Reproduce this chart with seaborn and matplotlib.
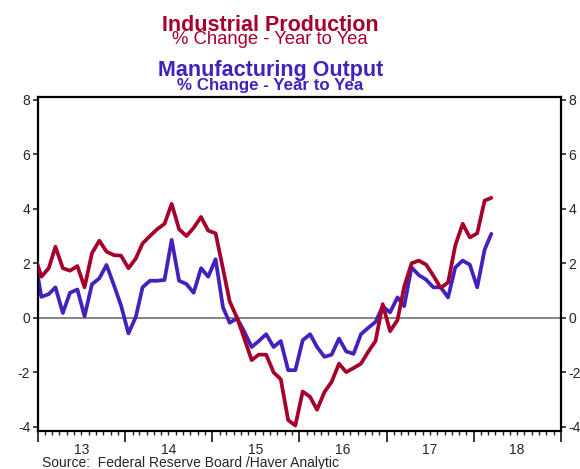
import numpy as np
import pandas as pd
import seaborn as sns
import matplotlib.pyplot as plt
import matplotlib.dates as mdates

# monthly y/y % change, Dec 2012 - Mar 2018 (Dec 2012 sits just outside the frame)
months = pd.date_range('2012-12-01', '2018-03-01', freq='MS')

ind_prod = [2.37, 1.51, 1.82, 2.61, 1.82, 1.73, 1.90, 1.12, 2.37, 2.83, 2.43, 2.30, 2.28,
            1.82, 2.18, 2.73, 3.00, 3.25, 3.45, 4.18, 3.25, 3.00, 3.30, 3.70, 3.20,
            3.10, 1.80, 0.60, 0.00, -0.75, -1.55, -1.35, -1.35, -2.00, -2.25, -3.75, -3.95,
            -2.70, -2.90, -3.37, -2.72, -2.35, -1.68, -1.99, -1.84, -1.68, -1.25, -0.85, 0.50,
            -0.49, -0.08, 1.14, 2.00, 2.10, 1.95, 1.55, 1.10, 1.30, 2.65, 3.45, 2.95,
            3.10, 4.30, 4.40]

mfg_output = [2.37, 0.77, 0.87, 1.12, 0.18, 0.92, 1.04, 0.06, 1.23, 1.45, 1.94, 1.20, 0.45,
              -0.57, 0.04, 1.12, 1.36, 1.36, 1.39, 2.86, 1.36, 1.24, 0.92, 1.82, 1.51,
              2.15, 0.38, -0.18, -0.02, -0.50, -1.07, -0.85, -0.60, -1.07, -0.85, -1.92, -1.92,
              -0.82, -0.60, -1.07, -1.43, -1.35, -0.76, -1.23, -1.32, -0.60, -0.37, -0.15, 0.42,
              0.20, 0.75, 0.43, 1.85, 1.57, 1.40, 1.12, 1.12, 0.75, 1.85, 2.10, 1.95,
              1.12, 2.50, 3.08]

year_labels = ['13', '14', '15', '16', '17', '18']

RED = '#A5002B'
BLUE = '#4421BC'

df = pd.DataFrame({'date': months + pd.Timedelta(days=14),
                   'ip': ind_prod, 'mfg': mfg_output})

sns.set_style('ticks')
plt.rcParams['font.family'] = ['Liberation Sans', 'DejaVu Sans']
plt.rcParams['axes.unicode_minus'] = False

fig = plt.figure(figsize=(5.8, 4.69), dpi=100)
ax = fig.add_axes([38 / 580, 1 - 431 / 469, 523 / 580, 334 / 469])

ax.axhline(0, color='#707070', lw=1.2, zorder=1)
sns.lineplot(data=df, x='date', y='mfg', ax=ax, color=BLUE, lw=2.7, zorder=2)
sns.lineplot(data=df, x='date', y='ip', ax=ax, color=RED, lw=2.7, zorder=3)

ax.set_xlim(pd.Timestamp('2013-01-01'), pd.Timestamp('2019-01-01'))
ax.set_ylim(-4.15, 8.1)
ax.set_yticks([-4, -2, 0, 2, 4, 6, 8])
ax.set_xlabel('')
ax.set_ylabel('')

for s in ax.spines.values():
    s.set_visible(True)
    s.set_linewidth(1.6)
    s.set_color('black')

ax.xaxis.set_major_locator(mdates.YearLocator())
ax.xaxis.set_minor_locator(mdates.MonthLocator())
ax.tick_params(axis='x', which='major', length=8, width=1.3, labelbottom=False)
ax.tick_params(axis='x', which='minor', length=3, width=1.0)
ax.tick_params(axis='y', left=True, right=True, labelleft=True, labelright=True,
               length=3.5, width=1.2, labelsize=10, pad=2)

# year labels centred in each year
sec = ax.secondary_xaxis('bottom')
mids = [mdates.date2num(pd.Timestamp(f'20{y}-07-01')) for y in year_labels]
sec.set_xticks(mids, year_labels)
sec.tick_params(length=0, pad=9, labelsize=10)
sec.spines['bottom'].set_visible(False)

fig.text(0.466, 1 - 31 / 469, 'Industrial Production', color=RED, fontsize=15.5,
         fontweight='bold', ha='center', va='baseline')
fig.text(0.466, 1 - 44 / 469, '% Change - Year to Yea', color=RED, fontsize=13.3,
         ha='center', va='baseline')
fig.text(0.466, 1 - 76 / 469, 'Manufacturing Output', color=BLUE, fontsize=15.5,
         fontweight='bold', ha='center', va='baseline')
fig.text(0.466, 1 - 90 / 469, '% Change - Year to Yea', color=BLUE, fontsize=12.2,
         fontweight='bold', ha='center', va='baseline')
fig.text(42 / 580, 2 / 469, 'Source:  Federal Reserve Board /Haver Analytic',
         fontsize=10, ha='left', va='baseline')

fig.savefig('out.png', dpi=100)
